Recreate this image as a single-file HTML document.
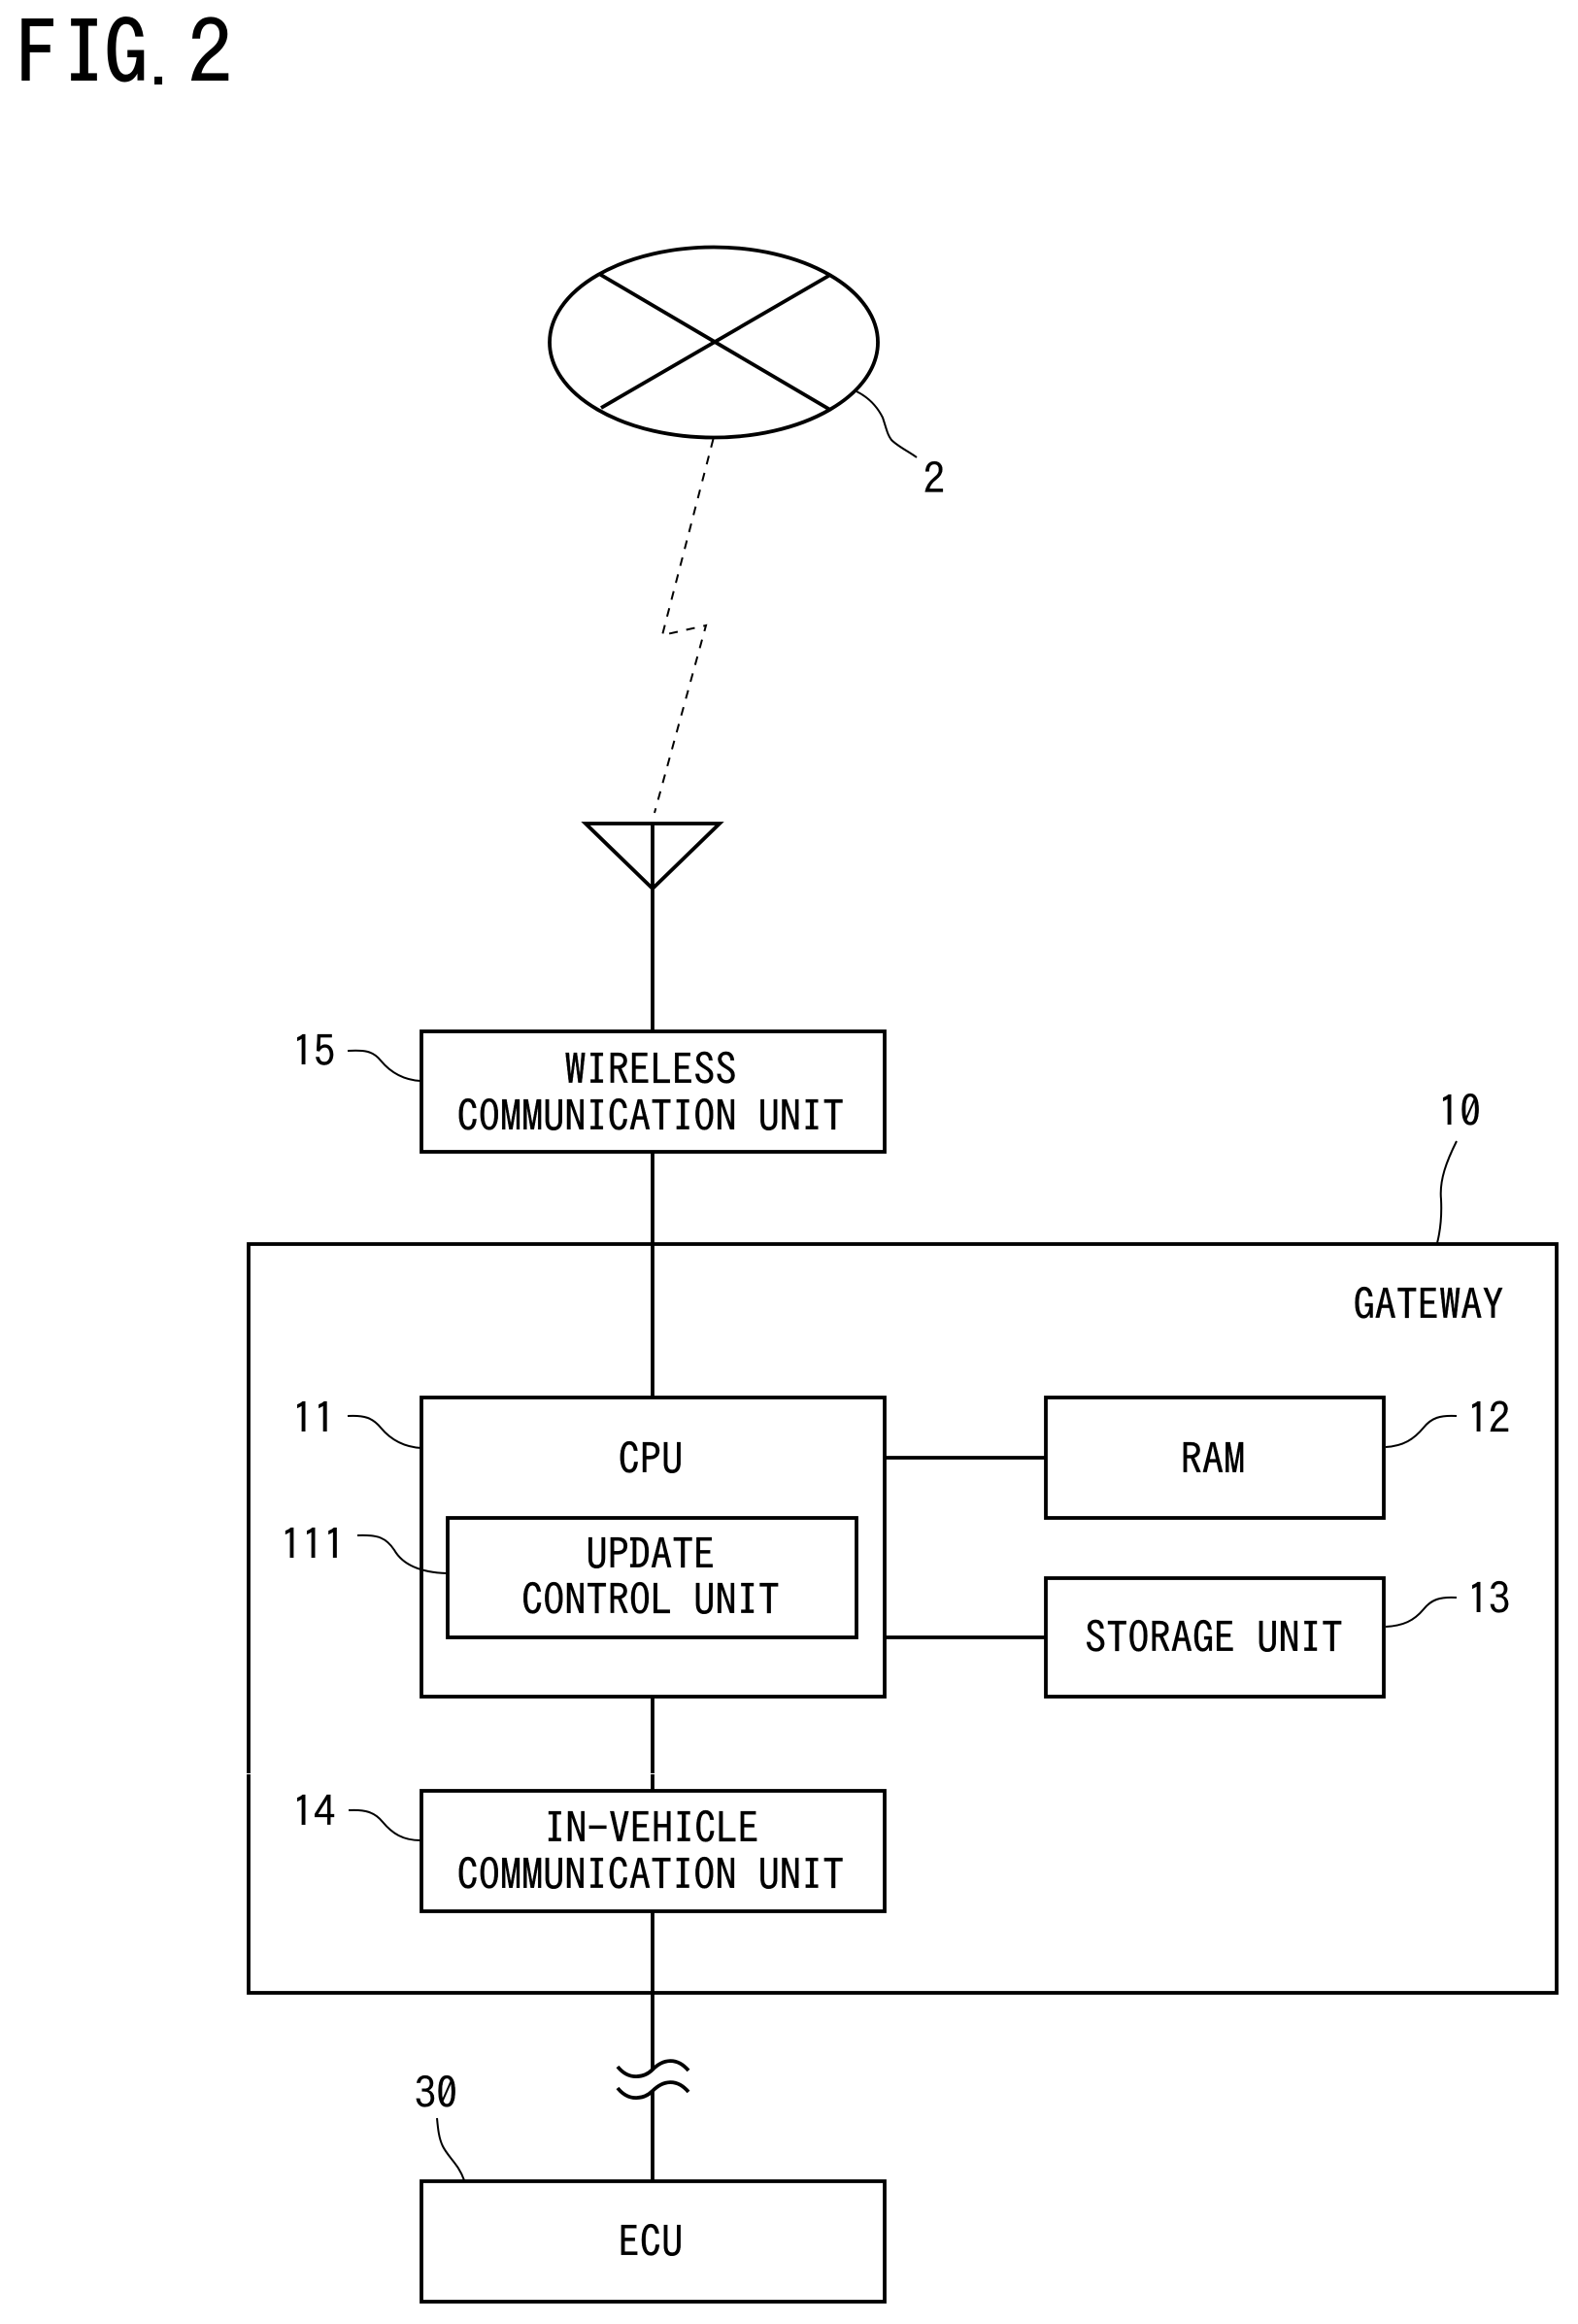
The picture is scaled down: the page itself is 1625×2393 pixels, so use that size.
<!DOCTYPE html>
<html>
<head>
<meta charset="utf-8">
<style>
html,body{margin:0;padding:0;background:#fff;}
svg{display:block;}
text{font-family:"IPAGothic","Liberation Mono",monospace;font-size:44.3px;fill:#000;text-anchor:middle;stroke:#000;stroke-width:0.3px;}
.fig{font-size:90px;text-anchor:start;stroke:#000;stroke-width:1px;}
.dot{font-size:60px;text-anchor:start;stroke:none;}
.b{fill:none;stroke:#000;stroke-width:3.8;stroke-linejoin:miter;}
.l{fill:none;stroke:#000;stroke-width:3.8;}
.t{fill:none;stroke:#000;stroke-width:2;}
.d{fill:none;stroke:#000;stroke-width:2;stroke-dasharray:9 9;}
</style>
</head>
<body>
<svg width="1625" height="2393" viewBox="0 0 1625 2393" xmlns="http://www.w3.org/2000/svg">
<rect width="1625" height="2393" fill="#fff"/>

<text class="fig" x="16.5 64 107" y="87">FIG</text>
<text class="dot" x="153.5" y="87">.</text>
<text class="fig" x="194" y="87">2</text>

<!-- network -->
<ellipse class="b" cx="735" cy="352.500" rx="169" ry="98"/>
<path class="l" d="M617 282L855 422M855 283L619 420"/>
<path class="t" d="M882 403C896 410 904 420 909 430C913 442 914 448 918 453C925 460 936 465 944 471"/>
<text x="962" y="508.500">2</text>

<!-- wireless dashed -->
<path class="d" d="M734.5 452L682 654L727 644L674 837"/>

<!-- antenna -->
<path class="b" d="M603 848H741L672 915ZM672 848V1062"/>

<!-- wireless unit -->
<rect class="b" x="434" y="1062" width="477" height="124"/>
<text x="670" y="1117">WIRELESS</text>
<text x="670" y="1165">COMMUNICATION UNIT</text>
<text x="323" y="1098">15</text>
<path class="t" d="M358 1082C375 1081 384 1082 392 1092C402 1104 415 1112 433 1113"/>

<path class="l" d="M672 1186V1439"/>

<!-- gateway -->
<rect class="b" x="256" y="1281" width="1347" height="771"/>
<text x="1471" y="1359">GATEWAY</text>
<text x="1503" y="1160">10</text>
<path class="t" d="M1500 1175C1490 1195 1482 1215 1484 1235C1485 1255 1483 1268 1480 1280"/>

<!-- CPU -->
<rect class="b" x="434" y="1439" width="477" height="308"/>
<text x="670" y="1518">CPU</text>
<text x="323" y="1476">11</text>
<path class="t" d="M358 1458C375 1457 384 1460 392 1470C402 1482 415 1490 434 1491"/>

<!-- update -->
<rect class="b" x="461" y="1563" width="421" height="123"/>
<text x="670" y="1616">UPDATE</text>
<text x="670" y="1663">CONTROL UNIT</text>
<text x="322" y="1606">111</text>
<path class="t" d="M368 1581C390 1580 398 1584 406 1596C414 1610 430 1619 460 1620"/>

<!-- RAM -->
<rect class="b" x="1077" y="1439" width="348" height="124"/>
<text x="1249" y="1518">RAM</text>
<text x="1533" y="1476">12</text>
<path class="t" d="M1500 1458C1483 1457 1474 1460 1466 1470C1456 1482 1445 1489 1427 1490"/>

<!-- storage -->
<rect class="b" x="1077" y="1625" width="348" height="122"/>
<text x="1250" y="1702">STORAGE UNIT</text>
<text x="1533" y="1662">13</text>
<path class="t" d="M1500 1645C1483 1644 1474 1647 1466 1657C1456 1669 1445 1674 1427 1675"/>

<path class="l" d="M911 1501H1077M911 1686H1077M672 1747V1844"/>

<!-- in-vehicle -->
<rect class="b" x="434" y="1844" width="477" height="124"/>
<text x="671" y="1898">IN-VEHICLE</text>
<text x="670" y="1946">COMMUNICATION UNIT</text>
<text x="323" y="1881">14</text>
<path class="t" d="M359 1864C376 1863 386 1866 394 1876C404 1888 415 1895 433 1895"/>

<rect x="253" y="1826" width="7" height="1" fill="#fff"/>
<rect x="669" y="1826" width="7" height="1" fill="#fff"/>

<!-- bus with break -->
<path class="l" d="M672 1968V2132M672 2152V2246"/>
<path class="b" d="M636 2128C648 2143 664 2139 672 2131C683 2120 697 2118 709 2132M636 2150C648 2165 664 2161 672 2153C683 2142 697 2140 709 2154"/>

<!-- ECU -->
<rect class="b" x="434" y="2246" width="477" height="124"/>
<text x="670" y="2324">ECU</text>
<text x="449" y="2171">30</text>
<path class="t" d="M450 2181C451 2192 452 2202 456 2210C462 2222 472 2228 478 2245"/>
</svg>
</body>
</html>
